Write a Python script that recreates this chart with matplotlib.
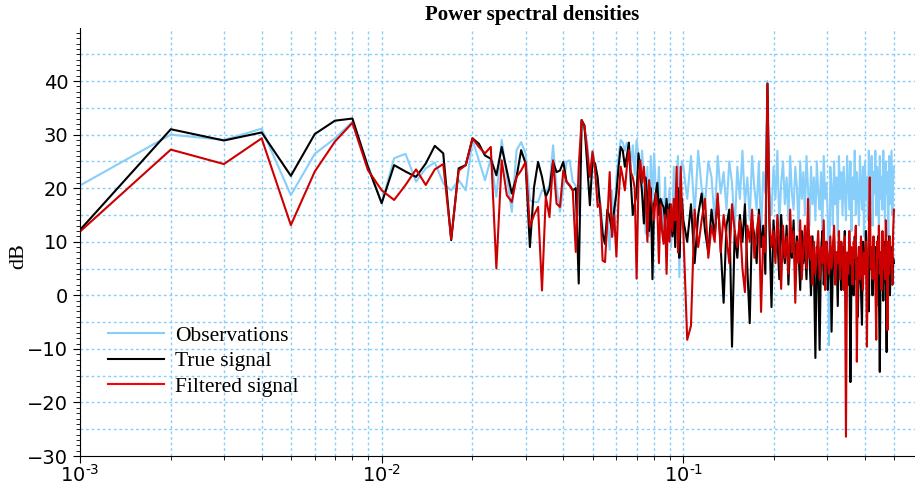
import numpy as np
import matplotlib
matplotlib.use('Agg')
import matplotlib.pyplot as plt
from matplotlib.ticker import MultipleLocator, LogLocator, NullFormatter, FuncFormatter, FixedLocator
from matplotlib.lines import Line2D

# ----------------------------
# Datos
# ----------------------------
k_low = np.arange(1, 100)
k_high = np.arange(100, 500, 3)
freq = np.concatenate([k_low, k_high]) / 1000.0

obs_low = [20.5, 30.0, 29.0, 31.1, 18.7, 26.4, 29.3, 32.4, 24.3, 17.2,
           25.6, 26.4, 21.2, 23.7, 24.8, 20.9, 19.6, 21.5, 19.6, 29.0,
           25.2, 21.5, 25.5, 18.4, 29.0, 22.1, 15.6, 27.1, 28.6, 26.5,
           17.7, 17.4, 17.4, 19.6, 19.3, 20.5, 28.0, 20.2, 15.6, 20.0,
           24.9, 25.2, 21.2, 20.5, 15.0, 32.7, 31.0, 28.6, 22.1, 27.0,
           24.0, 20.5, 17.4, 13.0, 9.6, 14.0, 8.5, 19.6, 11.0, 22.0,
           26.0, 29.0, 28.5, 27.0, 28.5, 27.5, 24.0, 28.0, 22.5, 29.0,
           26.0, 23.0, 27.0, 21.0, 11.5, 24.0, 11.0, 26.0, 17.0, 26.5,
           20.0, 17.0, 24.0, 13.0, 18.0, 10.0, 22.0, 12.0, 16.0, 20.0,
           9.0, 14.0, 24.0, 12.0, 22.0, 26.0, 3.4, 22.0, 25.0]
obs_high = [24, 18, 26, 15, 27, 20, 17, 25, 22, 14,
            26, 19, 23, 16, 25, 21, 12, 24, 18, 27,
            17, 22, 14, 26, 20, 16, 25, 11, 23, 19,
            40, 20, 15, 24, 18, 27, 13, 21, 25, 17,
            22, 14, 26, 19, 16, 24, 20, 12, 25, 18,
            23, 15, 26, 20, 13, 24, 17, 22, 14, 25,
            19, 16, 23, 12, 26, 18, 21, 15, -9.3, 24,
            20, 13, 25, 17, 22, 11, 26, 18, 23, 15,
            24, 19, 14, 26, 21, 16, 25, 12, 22, 18,
            27, 15, 23, 19, 13, 26, 20, 16, 24, 11,
            25, 18, 22, 14, 27, 20, 17, 26, 13, 23,
            19, 27, 15, 24, 21, 12, 26, 18, 22, 16,
            27, 20, 14, 25, 19, 23, 11, 26, 17, 22,
            27, 15, 21, 24]

true_low = [12.2, 31.0, 28.9, 30.4, 22.3, 30.1, 32.6, 33.0, 24.0, 17.2,
            24.3, 23.1, 22.1, 24.6, 27.9, 26.5, 10.3, 23.7, 24.3, 29.3,
            28.3, 26.1, 25.5, 22.4, 27.7, 23.3, 19.0, 22.1, 27.1, 24.6,
            9.0, 20.2, 24.9, 22.1, 18.4, 19.9, 24.9, 23.0, 23.3, 24.9,
            21.2, 20.5, 19.6, 20.0, 2.2, 32.7, 31.7, 24.6, 16.8, 25.2,
            24.6, 22.0, 16.2, 11.5, 9.6, 16.0, 14.5, 12.1, 16.0, 19.0,
            24.0, 27.7, 27.0, 24.0, 26.0, 28.5, 21.0, 15.0, 17.0, 19.0,
            26.5, 23.0, 19.0, 13.4, 22.0, 18.0, 12.0, 20.0, 3.0, 17.0,
            19.0, 21.0, 15.0, 18.0, 17.0, 16.5, 14.0, 18.0, 13.0, 17.0,
            15.0, 11.0, 16.0, 9.0, 18.0, 20.0, 7.0, 14.0, 18.0]
true_high = [14, 10, 17, 6, 15, 19, 12, 8, 16, 11,
             18, 9, -1.4, 13, 16, -9.6, 12, 7, 15, 10,
             17, 5, -5.2, 14, 11, 6, 16, 9, 13, 4,
             39.5, 12, -2.2, 14, 8, 11, 3, 15, 9, 6,
             13, 2, 10, 7, 14, 4, 11, 8, 1, 12,
             6, 10, 3, 13, 7, 0, 11, 5, -11.7, 9,
             4, -10.2, 8, 12, 2, 7, 10, 1, 6, 9,
             -6.8, 5, 11, 3, 8, -2, 10, 6, 1, 9,
             4, 12, -3, 7, 2, 10, -16.2, 5, 8, 0,
             11, 3, 7, -4, 9, 5, 1, -5.5, 10, 4,
             6, 12, 2, 8, -3, 11, 5, 7, 0, 10,
             3, 9, -2, 6, 11, 1, -14.3, 8, 4, 7,
             -1, 10, 5, 2, -10.6, 8, 3, 11, 0, 6,
             9, 2, 7, 6]

filt_low = [11.9, 27.2, 24.5, 29.3, 13.1, 23.1, 28.7, 32.2, 23.4, 19.6,
            17.8, 20.6, 23.5, 20.6, 23.5, 24.5, 10.5, 23.3, 24.3, 29.3,
            27.7, 26.5, 27.7, 5.0, 25.2, 18.7, 17.4, 22.1, 23.3, 24.9,
            12.8, 15.0, 16.5, 0.9, 18.4, 14.6, 25.2, 17.1, 16.5, 23.3,
            21.2, 20.5, 19.6, 8.1, 24.0, 32.7, 31.7, 27.1, 22.1, 26.8,
            23.3, 16.5, 17.1, 6.5, 6.2, 14.0, 23.0, 10.9, 15.0, 7.2,
            18.0, 24.0, 22.0, 19.6, 24.0, 27.1, 23.0, 22.0, 20.0, 3.1,
            21.0, 25.2, 21.0, 24.0, 19.0, 10.0, 21.5, 18.0, 16.5, 14.0,
            19.0, 16.5, 6.0, 17.0, 12.0, 9.6, 15.0, 4.0, 16.0, 10.0,
            17.0, 12.0, 18.0, 14.0, 24.0, 8.0, 12.0, 24.0, 16.0]
filt_high = [12, -8.3, -5.7, 16, 9, 14, 18, 7, 13, 10,
             19, 8, 15, 11, 6, 17, 12, 9, 14, 5,
             0.6, 13, 10, 16, 7, 12, 15, -3.1, 11, 8,
             39.5, 14, 9, 12, 6, 15, 10, 1.2, 13, 7,
             11, 4, 16, 8, 12, -1.4, 10, 6, 14, 3,
             9, 13, 5, 18, 7, 11, 2, 10, 4, 8,
             12, 3, 9, 6, 14, 1, 10, 7, 4, 11,
             5, 9, 13, 2, 8, 6, 12, 3, 10, 7,
             1, 11, -26.4, 8, 4, 12, 6, 9, 2, 10,
             7, 13, -12.4, 5, 9, 3, 11, 6, 1, 8,
             4, 10, -9.6, 7, 12, 22, 5, 9, 3, 11,
             6, 2, -8.3, 10, 7, 13, 4, 8, 1, 12,
             5, 9, 3, 14, 7, -6.5, 10, 4, 11, 6,
             8, 2, 12, 16]

obs = np.array(obs_low + obs_high)
true_sig = np.array(true_low + true_high)
filt = np.array(filt_low + filt_high)

# ----------------------------
# Figura
# ----------------------------
serif = 'Liberation Serif'
grid_col = '#87CEFA'
dash = (0, (2, 2))

fig = plt.figure(figsize=(9.15, 4.87), dpi=100)
ax = fig.add_axes([80/915, 1-456/487, 905/915, 428/487])

ax.plot(freq, obs, color='#87CEFA', lw=1.5)
ax.plot(freq, true_sig, color='black', lw=1.5)
ax.plot(freq, filt, color='#CC0000', lw=1.5)

ax.set_xscale('log')
ax.set_xlim(1e-3, 1.0)
ax.set_ylim(-30, 49.9)

def dec_label(x, pos):
    e = int(round(np.log10(x)))
    if e < 0:
        return r'$10^{\text{-}%d}$' % (-e)
    return r'$10^{%d}$' % e

ax.xaxis.set_major_locator(FixedLocator([1e-3, 1e-2, 1e-1]))
ax.xaxis.set_major_formatter(FuncFormatter(dec_label))
ax.xaxis.set_minor_locator(LogLocator(base=10, subs=np.arange(2, 10)))
ax.xaxis.set_minor_formatter(NullFormatter())
ax.yaxis.set_major_locator(MultipleLocator(10))
ax.yaxis.set_minor_locator(MultipleLocator(1))

ax.grid(True, which='both', axis='x', color=grid_col, ls=dash, lw=1)
for v in np.arange(-25, 50, 5):
    ax.axhline(v, color=grid_col, ls=dash, lw=1, zorder=0)

for s in ['top', 'right']:
    ax.spines[s].set_visible(False)

ax.tick_params(axis='both', which='major', labelsize=14, direction='out', length=5)
ax.tick_params(axis='both', which='minor', direction='out', length=3)
ax.tick_params(axis='x', which='major', pad=1)

ax.set_title('Power spectral densities', fontfamily=serif, fontweight='bold',
             fontsize=15, pad=6)
ax.set_ylabel('dB', fontfamily=serif, fontsize=16)
ax.yaxis.set_label_coords(-0.057, 0.467)

handles = [Line2D([], [], color='#87CEFA', lw=1.5),
           Line2D([], [], color='black', lw=1.5),
           Line2D([], [], color='red', lw=1.5)]
ax.legend(handles, ['Observations', 'True signal', 'Filtered signal'],
          loc='upper left', bbox_to_anchor=(0.01, 0.35), frameon=False,
          prop={'family': serif, 'size': 15.5}, handlelength=2.6,
          handletextpad=0.5, labelspacing=0.26)

fig.savefig('out.png', dpi=100)
